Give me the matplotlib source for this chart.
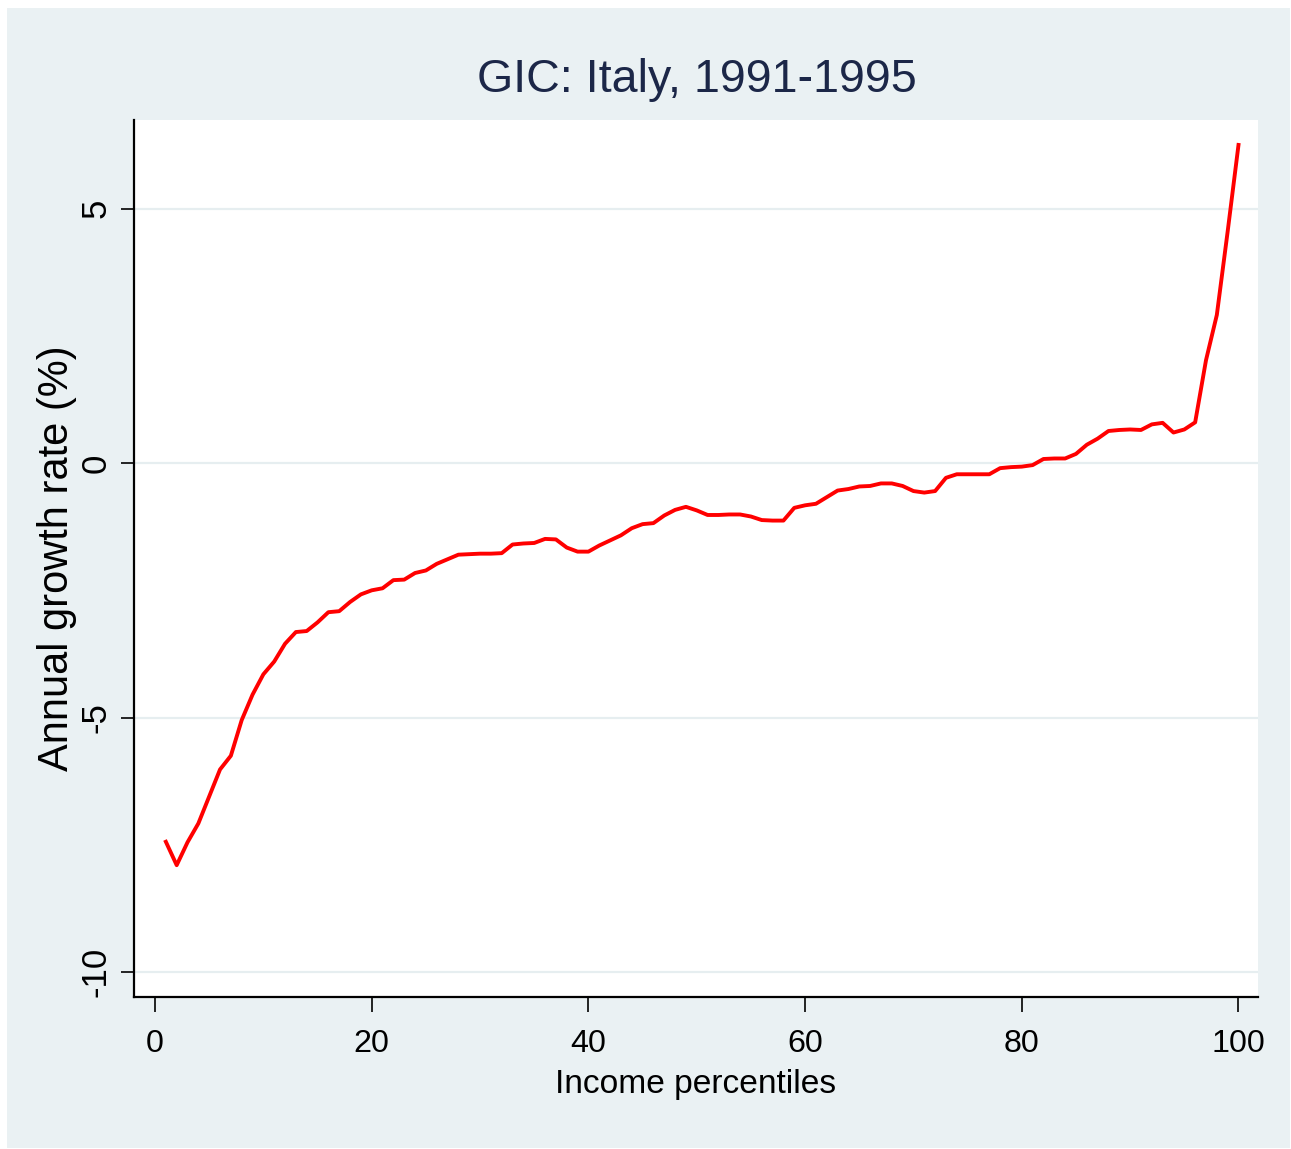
import numpy as np
import matplotlib
matplotlib.use("Agg")
import matplotlib.pyplot as plt
from matplotlib import font_manager as fm
from matplotlib.patches import Rectangle

# growth incidence curve
percentiles = list(range(1, 101))
growth = [
    -7.44, -7.90, -7.45, -7.08, -6.55, -6.02, -5.75, -5.05, -4.55, -4.15,
    -3.90, -3.55, -3.32, -3.30, -3.13, -2.93, -2.91, -2.73, -2.58, -2.50,
    -2.46, -2.30, -2.29, -2.16, -2.11, -1.98, -1.89, -1.80, -1.79, -1.78,
    -1.78, -1.77, -1.60, -1.58, -1.57, -1.49, -1.50, -1.66, -1.74, -1.74,
    -1.62, -1.52, -1.42, -1.28, -1.20, -1.18, -1.03, -0.92, -0.86, -0.93,
    -1.02, -1.02, -1.01, -1.01, -1.05, -1.12, -1.13, -1.13, -0.88, -0.83,
    -0.80, -0.67, -0.54, -0.51, -0.46, -0.45, -0.40, -0.40, -0.45, -0.55,
    -0.58, -0.55, -0.29, -0.22, -0.22, -0.22, -0.22, -0.10, -0.08, -0.07,
    -0.04, 0.08, 0.09, 0.09, 0.18, 0.36, 0.48, 0.63, 0.65, 0.66,
    0.65, 0.76, 0.79, 0.60, 0.66, 0.80, 2.02, 2.91, 4.55, 6.25,
]
xticks = [0, 20, 40, 60, 80, 100]
yticks = [-10, -5, 0, 5]

title = "GIC: Italy, 1991-1995"
xlab = "Income percentiles"
ylab = "Annual growth rate (%)"


def have(name):
    try:
        fm.findfont(name, fallback_to_default=False)
        return True
    except Exception:
        return False


# narrow font if there is one, otherwise plain Arial-like at a smaller size
if have("Liberation Sans Narrow"):
    narrow, k = ["Liberation Sans Narrow"], 1.0
else:
    narrow, k = ["Liberation Sans", "DejaVu Sans"], 0.86
wide = ["Liberation Sans", "DejaVu Sans"]

bg = "#eaf1f3"
W, H = 1291, 1149
fig = plt.figure(figsize=(W / 100, H / 100), dpi=100, facecolor="white")
# stata-like outer panel
fig.patches.append(Rectangle((7 / W, 1 / H), (1290 - 7) / W, (1141 - 1) / H,
                             transform=fig.transFigure, facecolor=bg,
                             edgecolor="none", zorder=-5))

ax = fig.add_axes([134 / W, (H - 997) / H, (1258 - 134) / W, (997 - 120) / H])
ax.set_zorder(2)
ax.set_facecolor("white")
ax.plot(percentiles, growth, color="#ff0000", lw=2.8, zorder=3)

ax.set_xlim(-1.94, 101.8)
ax.set_ylim(-10.49, 6.74)
ax.set_xticks(xticks)
ax.set_yticks(yticks)
ax.set_xticklabels([str(t) for t in xticks], family=narrow, fontsize=27 * k)
ax.set_yticklabels([str(t) for t in yticks], family=wide, fontsize=25,
                   rotation=90, va="center")
ax.tick_params(axis="x", length=11, width=1.2, pad=12, colors="black")
ax.tick_params(axis="y", length=9.5, width=1.2, pad=6, colors="black")

for y in yticks:
    ax.axhline(y, color="#e6eef0", lw=1.6, zorder=1)

for s in ["top", "right"]:
    ax.spines[s].set_visible(False)
for s in ["left", "bottom"]:
    ax.spines[s].set_linewidth(1.6)
    ax.spines[s].set_color("black")

ax.set_xlabel(xlab, family=narrow, fontsize=28 * k, labelpad=7)
ax.set_ylabel(ylab, family=wide, fontsize=30, labelpad=2)
fig.text(697 / W, 1 - 80 / H, title, family=narrow, fontsize=39 * k,
         color="#1c2748", ha="center", va="center")

fig.savefig("out.png", dpi=100, facecolor="white")
